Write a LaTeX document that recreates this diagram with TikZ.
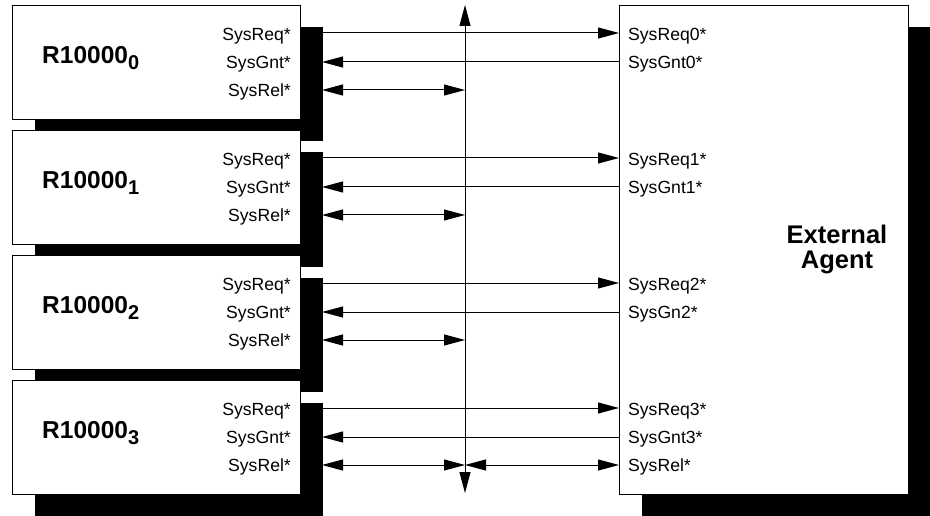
\documentclass[tikz,border=0pt]{standalone}
\usepackage{fontspec}
\setmainfont{Liberation Sans}
\usetikzlibrary{arrows.meta,shadows}
\tikzset{
	chip/.style={draw, line width=1pt, fill=white, inner sep=0pt, anchor=north west,
		drop shadow={shadow xshift=22pt, shadow yshift=-22pt, opacity=1, fill=black}},
	sig/.style={font=\fontsize{17.6}{17.6}\selectfont, inner sep=0pt, text height=12.5pt, text depth=0pt},
	chipname/.style={font=\bfseries\fontsize{24.5}{24.5}\selectfont, inner sep=0pt, anchor=west, text height=17.5pt, text depth=0pt},
	wire/.style={line width=1pt}
}
\begin{document}
\begin{tikzpicture}[x=1pt, y=-1pt, >={Triangle[length=21pt,width=11pt]}]
	\useasboundingbox (0,0) rectangle (930,516);
	\node[chip, minimum width=289pt, minimum height=489pt] (agent) at (619,5) {};
	\node[font=\bfseries\fontsize{25.5}{25}\selectfont, align=center, inner sep=0pt] (agentname) at (837,249) {External\\Agent};
	\coordinate (bustop) at (465,5);
	\coordinate (busbot) at (465,493);
	\foreach \i/\gnt in {0/SysGnt0*,1/SysGnt1*,2/SysGn2*,3/SysGnt3*} {
		\pgfmathsetmacro\y{5+125*\i}
		\node[chip, minimum width=288pt, minimum height=114pt] (cpu\i) at (12,\y) {};
		\node[chipname] (name\i) at (42,\y+50) {R10000\raisebox{-6pt}{\fontsize{20}{20}\selectfont\i}};
		\node[sig, anchor=east] (req\i) at (291,\y+29) {SysReq*};
		\node[sig, anchor=east] (gnt\i) at (291,\y+57) {SysGnt*};
		\node[sig, anchor=east] (rel\i) at (291,\y+85) {SysRel*};
		\coordinate (wreq\i) at (322,\y+28);
		\coordinate (wgnt\i) at (322,\y+57);
		\coordinate (wrel\i) at (322,\y+85);
		\node[sig, anchor=west] (areq\i) at (628,\y+29) {SysReq\i*};
		\node[sig, anchor=west] (agnt\i) at (628,\y+57) {\gnt};
		\draw[wire,->] (wreq\i) -- (agent.west |- wreq\i);
		\draw[wire,<-] (wgnt\i) -- (agent.west |- wgnt\i);
		\draw[wire,<->] (wrel\i) -- (bustop |- wrel\i);
	}
	\node[sig, anchor=west] (arel3) at (628,465) {SysRel*};
	\draw[wire,<->] (bustop |- wrel3) -- (agent.west |- wrel3);
	\draw[wire,<->] (busbot) -- (bustop);
\end{tikzpicture}
\end{document}
